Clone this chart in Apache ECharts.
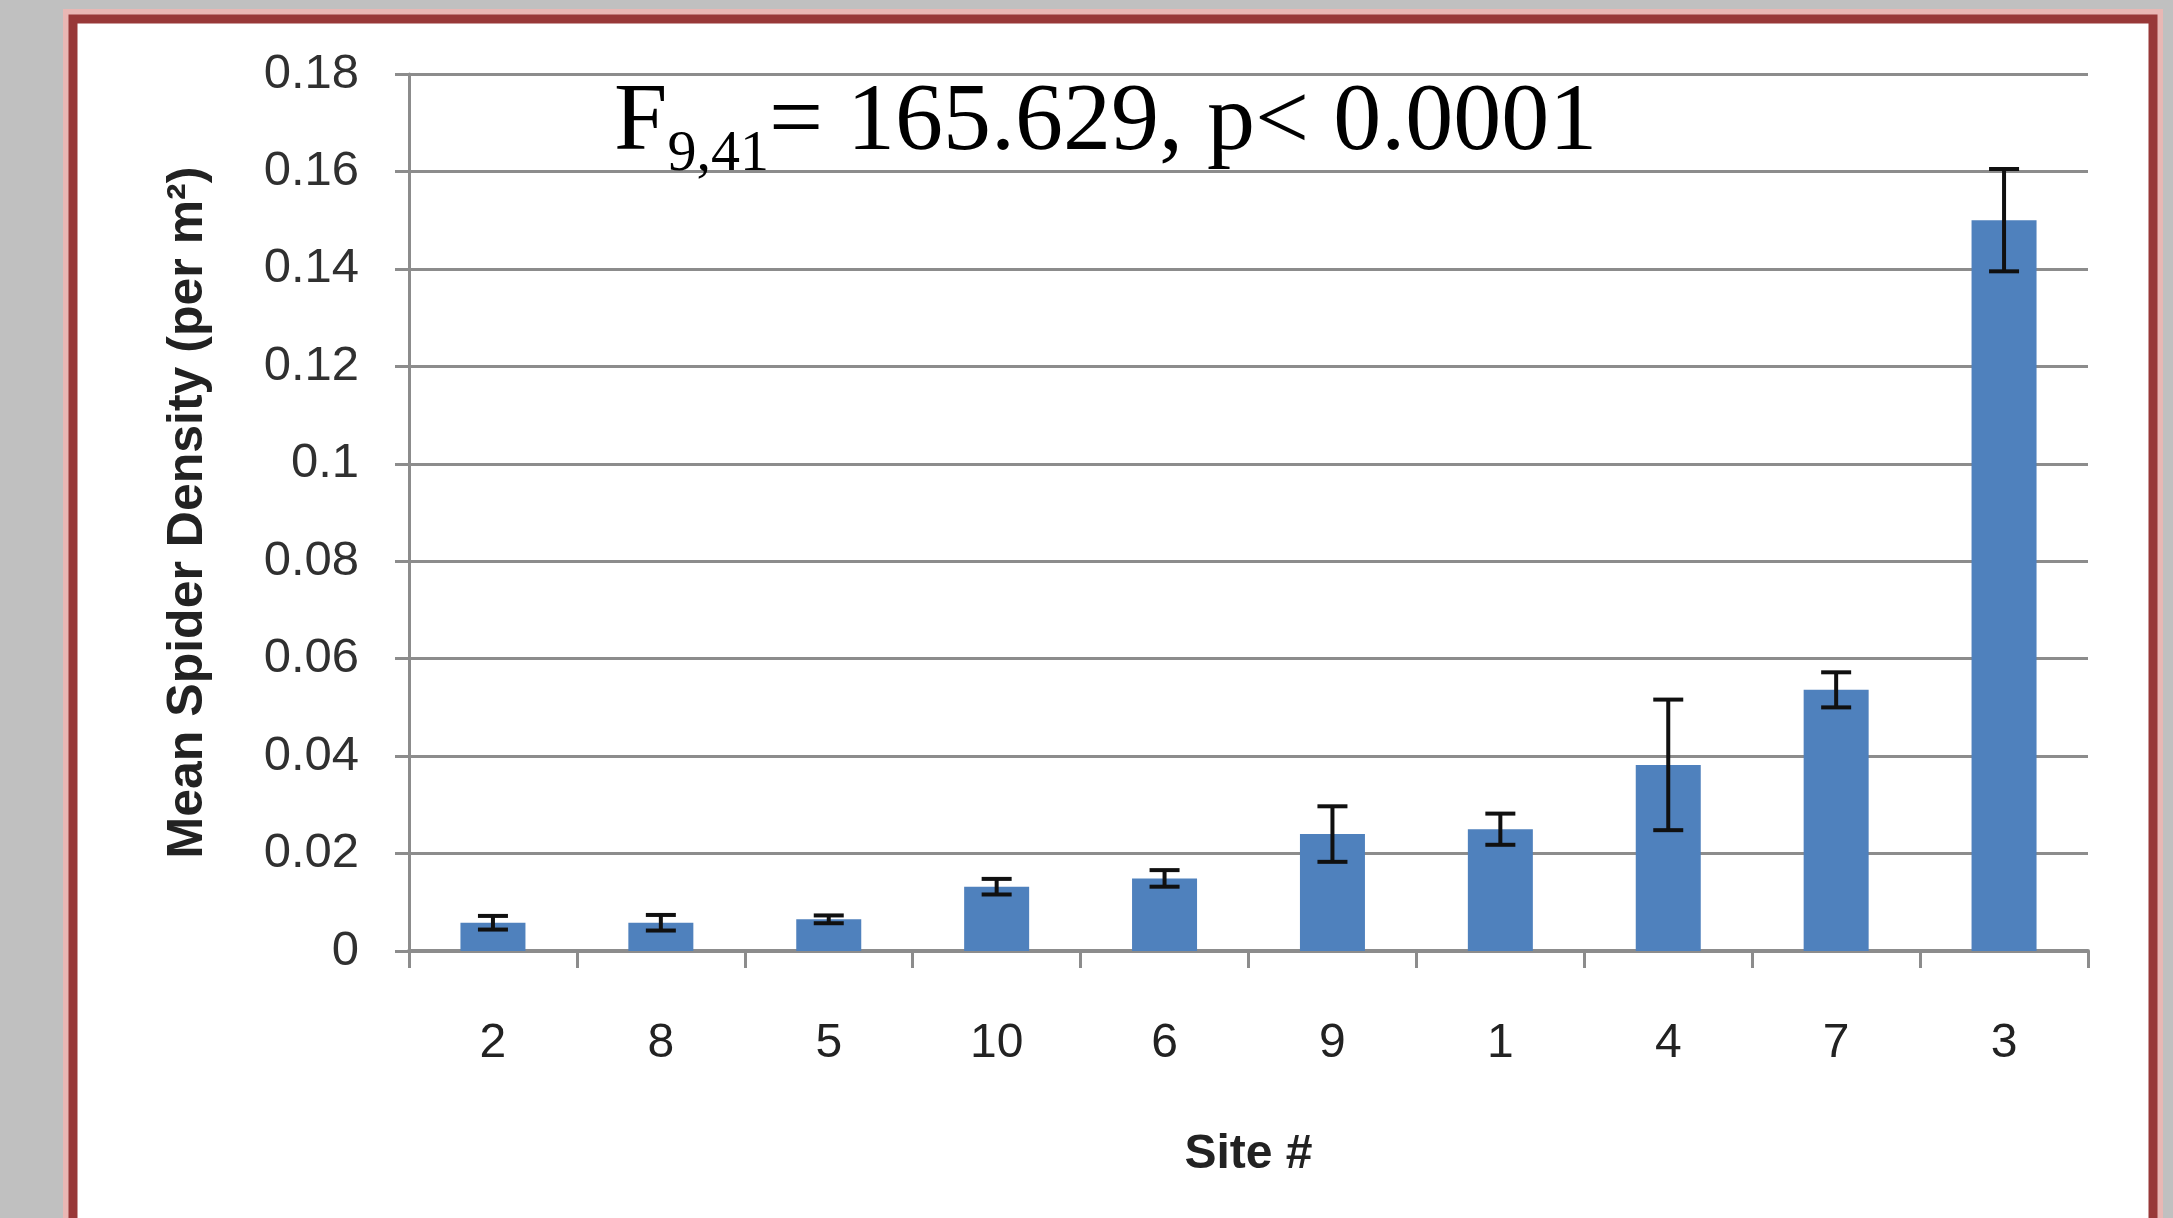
<!DOCTYPE html>
<html>
<head>
<meta charset="utf-8">
<script src="https://cdn.jsdelivr.net/npm/echarts@6/dist/echarts.min.js"></script>
<style>
  html, body { margin: 0; padding: 0; background: #c0c0c0; }
  #chart { width: 2173px; height: 1218px; }
</style>
</head>
<body>
<div id="chart"></div>
<script>
// ---- data ----
const sites = ['2', '8', '5', '10', '6', '9', '1', '4', '7', '3'];
const meanDensity = [0.0058, 0.0058, 0.0065, 0.0132, 0.0149, 0.0240, 0.0250, 0.0382, 0.0536, 0.1500];
const stdError = [0.0014, 0.0016, 0.0008, 0.0016, 0.0017, 0.0057, 0.0032, 0.0134, 0.0036, 0.0105];
const yTicks = { min: 0, max: 0.18, interval: 0.02 };
const yTitle = 'Mean Spider Density (per m²)';
const xTitle = 'Site #';
const statMain = 'F';
const statSub = '9,41';
const statRest = '= 165.629, p< 0.0001';

const gridColor = '#8c8c8c';
const errData = sites.map((s, i) => [i, meanDensity[i], stdError[i]]);

const chart = echarts.init(document.getElementById('chart'), null, { renderer: 'canvas' });
chart.setOption({
  backgroundColor: '#c0c0c0',
  animation: false,
  graphic: {
    elements: [
      {
        type: 'rect', z: -20,
        shape: { x: 70, y: 16, width: 2086, height: 1300 },
        style: { fill: 'none', stroke: '#e9b7b4', lineWidth: 14 }
      },
      {
        type: 'rect', z: -10,
        shape: { x: 73, y: 19, width: 2080, height: 1300 },
        style: { fill: '#ffffff', stroke: '#983838', lineWidth: 9 }
      },
      {
        type: 'text', z: 10,
        left: 614, top: 76,
        style: {
          text: '{m|' + statMain + '}{s|' + statSub + '}{m|' + statRest + '}',
          rich: {
            m: { fontFamily: '"Liberation Serif", "DejaVu Serif", serif', fontSize: 96, lineHeight: 120, verticalAlign: 'middle', fill: '#000' },
            s: { fontFamily: '"Liberation Serif", "DejaVu Serif", serif', fontSize: 58, lineHeight: 52, verticalAlign: 'bottom', fill: '#000' }
          }
        }
      }
    ]
  },
  grid: { left: 409, top: 74, width: 1679, height: 877, containLabel: false },
  xAxis: {
    type: 'category',
    data: sites,
    name: xTitle,
    nameLocation: 'middle',
    nameGap: 180,
    nameTextStyle: { fontFamily: '"Liberation Sans", Arial, sans-serif', fontSize: 48, fontWeight: 'bold', color: '#222' },
    axisLine: { show: true, lineStyle: { color: gridColor, width: 4 } },
    axisTick: { show: true, alignWithLabel: false, length: 17, lineStyle: { color: gridColor, width: 3 } },
    axisLabel: { margin: 69, fontFamily: '"Liberation Sans", Arial, sans-serif', fontSize: 48, color: '#222' },
    splitLine: { show: false }
  },
  yAxis: {
    type: 'value',
    min: yTicks.min, max: yTicks.max, interval: yTicks.interval,
    name: yTitle,
    nameLocation: 'middle',
    nameRotate: 90,
    nameGap: 196,
    nameTextStyle: { fontFamily: '"Liberation Sans", Arial, sans-serif', fontSize: 50, fontWeight: 'bold', color: '#222' },
    axisLine: { show: true, lineStyle: { color: gridColor, width: 3 } },
    axisTick: { show: true, length: 14, lineStyle: { color: gridColor, width: 3 } },
    axisLabel: {
      margin: 50, fontFamily: '"Liberation Sans", Arial, sans-serif', fontSize: 49, color: '#303030',
      formatter: v => String(parseFloat(v.toFixed(2)))
    },
    splitLine: { show: true, lineStyle: { color: gridColor, width: 3 } }
  },
  series: [
    {
      type: 'bar',
      data: meanDensity,
      barWidth: 65,
      itemStyle: { color: '#4f81bd' },
      z: 2
    },
    {
      type: 'custom',
      data: errData,
      z: 5,
      renderItem: function (params, api) {
        const i = api.value(0), m = api.value(1), e = api.value(2);
        const top = api.coord([i, m + e]);
        const bot = api.coord([i, m - e]);
        const hw = 15;
        const st = { stroke: '#101010', lineWidth: 4 };
        return {
          type: 'group',
          children: [
            { type: 'line', shape: { x1: top[0], y1: top[1], x2: bot[0], y2: bot[1] }, style: st },
            { type: 'line', shape: { x1: top[0] - hw, y1: top[1], x2: top[0] + hw, y2: top[1] }, style: st },
            { type: 'line', shape: { x1: bot[0] - hw, y1: bot[1], x2: bot[0] + hw, y2: bot[1] }, style: st }
          ]
        };
      }
    }
  ]
});
</script>
</body>
</html>
